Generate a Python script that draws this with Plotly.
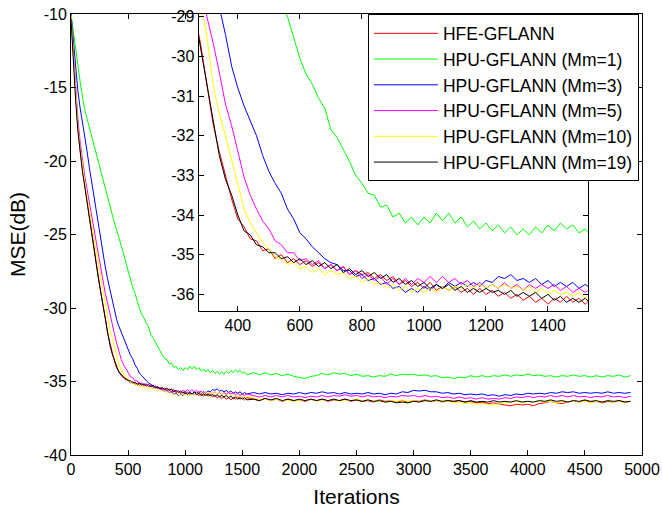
import plotly.graph_objects as go

# iteration index (fine sampling in the transient, coarser afterwards)
iters = list(range(0, 1541, 20)) + list(range(1600, 4901, 50))

series_names = ["HFE-GFLANN", "HPU-GFLANN (Mm=1)", "HPU-GFLANN (Mm=3)",
                "HPU-GFLANN (Mm=5)", "HPU-GFLANN (Mm=10)", "HPU-GFLANN (Mm=19)"]
series_colors = ["#ff0000", "#00ff00", "#0000ff", "#ff00ff", "#ffff00", "#000000"]

hfe = [
    -10.2, -13.0, -15.9, -17.8, -19.3, -20.6, -21.6, -22.7, -23.8, -24.9,
    -26.0, -27.0, -27.9, -28.9, -29.7, -30.7, -31.7, -32.4, -33.0, -33.6,
    -34.1, -34.3, -34.6, -34.65, -34.9, -34.85, -35.1, -35.0, -35.2, -35.1,
    -35.25, -35.15, -35.3, -35.2, -35.35, -35.25, -35.4, -35.3, -35.5, -35.4,
    -35.5, -35.45, -35.6, -35.5, -35.65, -35.55, -35.75, -35.65, -35.8, -35.7,
    -35.85, -35.7, -35.9, -35.8, -35.9, -35.8, -35.95, -35.85, -36.0, -35.85,
    -36.0, -35.9, -36.05, -35.95, -36.1, -36.0, -36.15, -36.05, -36.2, -36.1,
    -36.25, -36.1, -36.2, -36.05, -36.2, -36.1, -36.25, -36.1,
    -36.2, -36.3, -36.15, -36.3, -36.2, -36.35, -36.2, -36.3, -36.25, -36.35,
    -36.2, -36.3, -36.2, -36.35, -36.25, -36.3, -36.2, -36.35, -36.25, -36.35,
    -36.3, -36.4, -36.25, -36.35, -36.3, -36.4, -36.3, -36.4, -36.3, -36.35,
    -36.25, -36.35, -36.3, -36.4, -36.3, -36.35, -36.3, -36.4, -36.35, -36.45,
    -36.4, -36.5, -36.45, -36.55, -36.6, -36.65, -36.55, -36.6, -36.55, -36.65,
    -36.5, -36.45, -36.35, -36.45, -36.5, -36.4, -36.3, -36.4, -36.3, -36.4,
    -36.35, -36.45, -36.35, -36.4, -36.3, -36.4, -36.35,
]

mm1 = [
    -10.0, -11.2, -12.4, -13.6, -14.6, -15.6, -16.5, -17.1, -17.7, -18.3,
    -18.9, -19.5, -20.1, -20.7, -21.3, -21.9, -22.5, -23.0, -23.6, -24.2,
    -24.7, -25.3, -25.8, -26.3, -26.9, -27.5, -28.0, -28.6, -29.0, -29.55,
    -30.05, -30.45, -30.7, -31.05, -31.3, -31.85, -32.05, -32.35, -32.65, -33.0,
    -33.2, -33.45, -33.5, -33.8, -33.75, -34.05, -33.95, -34.2, -34.05, -34.25,
    -34.05, -34.2, -33.95, -34.15, -33.95, -34.2, -34.05, -34.3, -34.15, -34.35,
    -34.2, -34.4, -34.25, -34.45, -34.3, -34.5, -34.35, -34.5, -34.3, -34.45,
    -34.25, -34.4, -34.2, -34.35, -34.25, -34.45, -34.35, -34.55,
    -34.4, -34.55, -34.4, -34.55, -34.45, -34.6, -34.5, -34.65, -34.7, -34.8,
    -34.65, -34.6, -34.45, -34.55, -34.4, -34.5, -34.45, -34.6, -34.5, -34.65,
    -34.6, -34.7, -34.6, -34.65, -34.5, -34.6, -34.5, -34.55, -34.5, -34.6,
    -34.55, -34.65, -34.6, -34.75, -34.7, -34.8, -34.7, -34.75, -34.6, -34.7,
    -34.6, -34.7, -34.6, -34.65, -34.55, -34.65, -34.55, -34.6, -34.5, -34.6,
    -34.55, -34.65, -34.6, -34.7, -34.6, -34.65, -34.55, -34.65, -34.6, -34.7,
    -34.6, -34.7, -34.6, -34.65, -34.55, -34.7, -34.6,
]

mm3 = [
    -10.0, -11.9, -13.8, -15.2, -16.4, -17.3, -18.3, -19.3, -20.4, -21.4,
    -22.4, -23.3, -24.2, -25.3, -26.3, -27.2, -28.0, -28.75, -29.45, -30.25,
    -30.8, -31.25, -31.65, -32.0, -32.5, -32.9, -33.2, -33.45, -33.85, -34.1,
    -34.45, -34.6, -34.8, -34.95, -35.1, -35.2, -35.25, -35.4, -35.4, -35.55,
    -35.5, -35.65, -35.6, -35.75, -35.7, -35.85, -35.8, -35.95, -35.85, -35.95,
    -35.8, -35.9, -35.75, -35.85, -35.7, -35.8, -35.7, -35.8, -35.7, -35.8,
    -35.65, -35.7, -35.55, -35.6, -35.5, -35.65, -35.6, -35.7, -35.6, -35.75,
    -35.65, -35.8, -35.7, -35.8, -35.7, -35.85, -35.75, -35.85,
    -35.75, -35.85, -35.75, -35.85, -35.8, -35.9, -35.8, -35.85, -35.75, -35.85,
    -35.75, -35.8, -35.7, -35.8, -35.75, -35.85, -35.75, -35.85, -35.8, -35.85,
    -35.75, -35.85, -35.8, -35.9, -35.8, -35.85, -35.7, -35.75, -35.6, -35.65,
    -35.6, -35.7, -35.7, -35.8, -35.75, -35.85, -35.8, -35.9, -35.85, -35.9,
    -35.85, -35.95, -35.9, -36.0, -35.9, -35.95, -35.85, -35.9, -35.8, -35.85,
    -35.8, -35.85, -35.75, -35.8, -35.7, -35.75, -35.7, -35.8, -35.75, -35.8,
    -35.75, -35.8, -35.7, -35.8, -35.75, -35.8, -35.75,
]

mm5 = [
    -10.1, -12.6, -15.1, -17.1, -18.7, -20.0, -21.0, -21.9, -22.8, -23.7,
    -24.6, -25.4, -26.2, -27.1, -28.1, -29.0, -29.65, -30.4, -31.2, -31.75,
    -32.4, -33.05, -33.5, -33.85, -34.15, -34.35, -34.65, -34.75, -34.95, -34.95,
    -35.15, -35.1, -35.25, -35.15, -35.35, -35.25, -35.4, -35.3, -35.5, -35.4,
    -35.6, -35.5, -35.65, -35.55, -35.75, -35.6, -35.75, -35.6, -35.75, -35.6,
    -35.7, -35.55, -35.7, -35.55, -35.7, -35.6, -35.75, -35.65, -35.8, -35.7,
    -35.85, -35.75, -35.85, -35.7, -35.85, -35.75, -35.9, -35.75, -35.85, -35.75,
    -35.85, -35.75, -35.9, -35.8, -35.95, -35.85, -35.95, -35.85,
    -35.95, -36.05, -35.95, -36.05, -35.95, -36.05, -35.95, -36.05, -36.0, -36.1,
    -36.0, -36.05, -35.95, -36.05, -35.95, -36.0, -35.9, -36.0, -35.95, -36.05,
    -35.95, -36.05, -36.0, -36.1, -36.0, -36.05, -35.95, -36.0, -35.95, -36.05,
    -35.95, -36.05, -36.0, -36.1, -36.05, -36.15, -36.05, -36.15, -36.1, -36.2,
    -36.1, -36.2, -36.15, -36.2, -36.1, -36.15, -36.05, -36.1, -36.0, -36.1,
    -36.0, -36.05, -35.95, -36.05, -35.95, -36.05, -35.95, -36.05, -36.0, -36.1,
    -36.0, -36.05, -35.95, -36.05, -36.0, -36.1, -36.0,
]

mm10 = [
    -10.1, -12.9, -15.6, -17.6, -19.1, -20.4, -21.4, -22.4, -23.4, -24.3,
    -25.2, -26.1, -26.9, -27.8, -28.6, -29.5, -30.7, -31.45, -32.0, -32.6,
    -33.2, -33.85, -34.2, -34.45, -34.7, -34.85, -35.05, -35.1, -35.25, -35.2,
    -35.35, -35.3, -35.45, -35.35, -35.5, -35.4, -35.5, -35.45, -35.6, -35.55,
    -35.7, -35.6, -35.75, -35.7, -35.85, -35.75, -35.9, -35.8, -35.95, -35.85,
    -35.95, -35.85, -35.95, -35.8, -35.9, -35.8, -35.85, -35.75, -35.85, -35.75,
    -35.85, -35.75, -35.85, -35.75, -35.85, -35.8, -35.9, -35.8, -35.95, -35.85,
    -36.0, -35.9, -36.0, -35.95, -36.05, -35.95, -36.1, -36.0,
    -36.1, -36.25, -36.15, -36.3, -36.2, -36.3, -36.25, -36.35, -36.25, -36.3,
    -36.2, -36.35, -36.25, -36.3, -36.2, -36.35, -36.25, -36.3, -36.2, -36.3,
    -36.25, -36.35, -36.3, -36.4, -36.3, -36.35, -36.25, -36.35, -36.3, -36.4,
    -36.3, -36.35, -36.3, -36.4, -36.35, -36.45, -36.4, -36.5, -36.45, -36.55,
    -36.5, -36.55, -36.6, -36.5, -36.45, -36.4, -36.35, -36.45, -36.35, -36.4,
    -36.3, -36.4, -36.35, -36.45, -36.35, -36.4, -36.3, -36.4, -36.35, -36.45,
    -36.35, -36.4, -36.3, -36.4, -36.35, -36.45, -36.35,
]

mm19 = [
    -10.3, -13.2, -15.8, -17.9, -19.4, -20.7, -21.7, -22.8, -23.9, -24.9,
    -26.1, -27.1, -28.0, -28.9, -29.8, -30.8, -31.6, -32.5, -33.1, -33.5,
    -34.0, -34.4, -34.5, -34.75, -34.8, -34.95, -34.95, -35.1, -35.05, -35.2,
    -35.1, -35.25, -35.15, -35.3, -35.2, -35.35, -35.25, -35.45, -35.35, -35.5,
    -35.4, -35.55, -35.45, -35.6, -35.5, -35.7, -35.6, -35.75, -35.65, -35.8,
    -35.7, -35.85, -35.75, -35.85, -35.75, -35.9, -35.8, -35.95, -35.85, -35.95,
    -35.85, -35.95, -35.9, -36.0, -35.9, -36.05, -35.95, -36.05, -35.95, -36.1,
    -36.0, -36.15, -36.05, -36.2, -36.1, -36.2, -36.1, -36.25,
    -36.2, -36.3, -36.15, -36.25, -36.15, -36.3, -36.2, -36.3, -36.2, -36.3,
    -36.2, -36.3, -36.2, -36.3, -36.2, -36.3, -36.2, -36.3, -36.25, -36.35,
    -36.25, -36.35, -36.3, -36.4, -36.35, -36.45, -36.4, -36.45, -36.35, -36.4,
    -36.3, -36.35, -36.25, -36.35, -36.3, -36.35, -36.3, -36.4, -36.3, -36.4,
    -36.35, -36.4, -36.3, -36.4, -36.35, -36.4, -36.3, -36.4, -36.35, -36.4,
    -36.3, -36.35, -36.25, -36.35, -36.3, -36.4, -36.3, -36.35, -36.25, -36.35,
    -36.3, -36.4, -36.3, -36.35, -36.3, -36.4, -36.35,
]

all_series = [hfe, mm1, mm3, mm5, mm10, mm19]
for s in all_series:
    assert len(s) == len(iters), (len(s), len(iters))

main_xticks = [0, 500, 1000, 1500, 2000, 2500, 3000, 3500, 4000, 4500, 5000]
main_yticks = [-40, -35, -30, -25, -20, -15, -10]
main_yticktext = ["-40", "-35", "-30", "-25", "-20", "-15", "-10"]
inset_xticks = [400, 600, 800, 1000, 1200, 1400]
inset_yticks = [-36, -35, -34, -33, -32, -31, -30, -29]
inset_yticktext = ["-36", "-35", "-34", "-33", "-32", "-31", "-30", "-29"]

FONT = "Liberation Sans, Arial, sans-serif"

fig = go.Figure()
for name, color, vals in zip(series_names, series_colors, all_series):
    fig.add_trace(go.Scatter(x=iters, y=vals, mode="lines", name=name,
                             line=dict(color=color, width=1),
                             xaxis="x", yaxis="y"))
for name, color, vals in zip(series_names, series_colors, all_series):
    fig.add_trace(go.Scatter(x=iters, y=vals, mode="lines", name=name,
                             line=dict(color=color, width=1), showlegend=False,
                             xaxis="x2", yaxis="y2"))

axis_common = dict(showline=True, linecolor="black", linewidth=1, mirror="ticks",
                   ticks="inside", ticklen=5, tickcolor="black", showgrid=False,
                   zeroline=False, automargin=False,
                   tickfont=dict(family=FONT, size=16, color="black"))

fig.update_layout(
    width=662, height=513,
    margin=dict(l=71, r=20, t=14, b=58),
    paper_bgcolor="white", plot_bgcolor="white",
    font=dict(family=FONT, color="black"),
    xaxis=dict(domain=[0, 1], range=[0, 5000], tickvals=main_xticks,
               title=dict(text="Iterations", font=dict(size=21), standoff=12),
               **axis_common),
    yaxis=dict(domain=[0, 1], range=[-40, -10], tickvals=main_yticks,
               ticktext=main_yticktext,
               title=dict(text="MSE(dB)", font=dict(size=21), standoff=12),
               **axis_common),
    xaxis2=dict(domain=[0.2233, 0.9054], anchor="y2", range=[273, 1529],
                tickvals=inset_xticks, **axis_common),
    yaxis2=dict(domain=[0.3265, 1.0], anchor="x2", range=[-36.42, -28.93],
                tickvals=inset_yticks, ticktext=inset_yticktext, **axis_common),
    showlegend=True,
    legend=dict(x=0.520, y=0.999, xanchor="left", yanchor="top",
                bgcolor="white", bordercolor="black", borderwidth=1,
                font=dict(family=FONT, size=17.5, color="black"),
                itemwidth=64, traceorder="normal"),
)

fig.write_html("out.html")
